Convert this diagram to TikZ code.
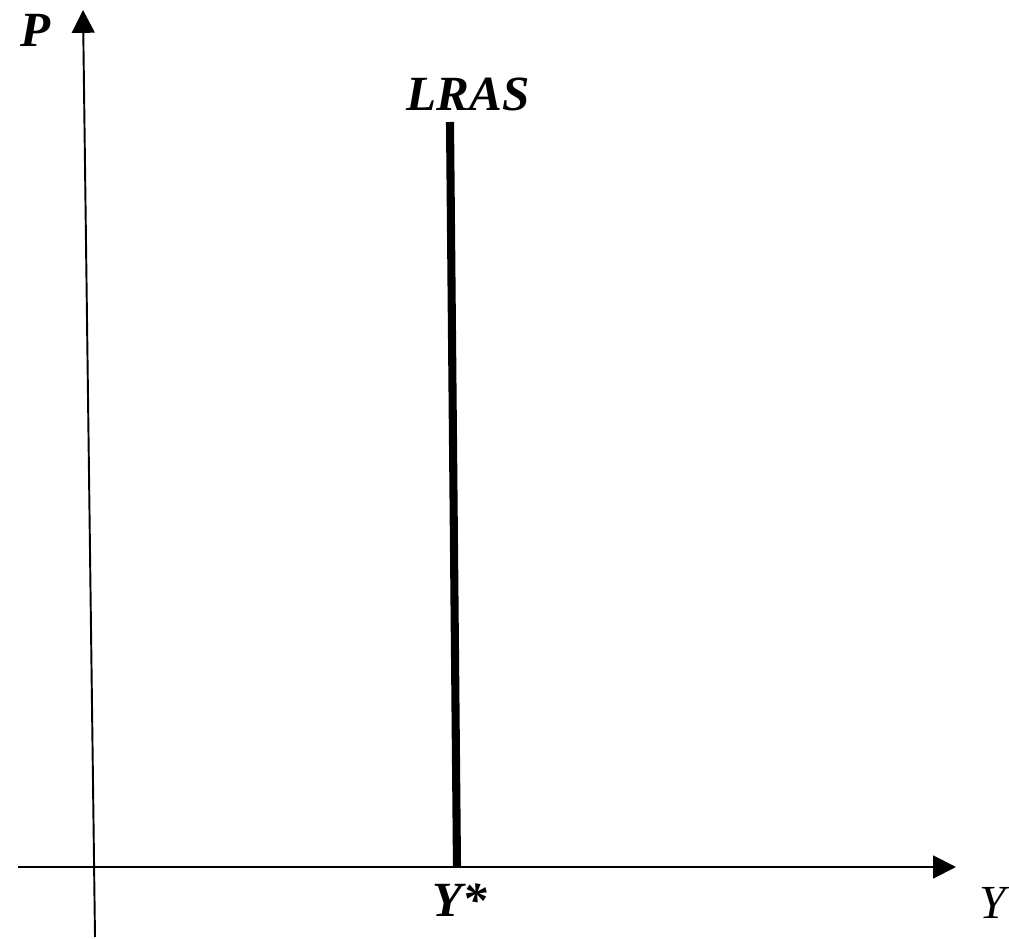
\documentclass[tikz,border=0pt]{standalone}
\usepackage{fontspec}
\setmainfont{Liberation Serif}
\usetikzlibrary{arrows.meta}

\begin{document}
\begin{tikzpicture}[
    x=0.02cm, y=-0.02cm,
    axis/.style={-{Triangle[length=13pt, width=13pt]}, line width=1.1pt, black},
    curve/.style={line width=4.6pt, black},
    lbl/.style={font=\fontsize{28}{30}\selectfont\bfseries\itshape, inner sep=0pt},
    axlbl/.style={font=\fontsize{27}{30}\selectfont\itshape, inner sep=0pt},
]
\useasboundingbox (0, 0) rectangle (1009, 939);

% Axes
\coordinate (pbot) at (95, 937);
\coordinate (ptop) at (83, 10);
\coordinate (yleft) at (18, 867);
\coordinate (yright) at (956, 867);
\draw[axis] (pbot) -- (ptop);
\draw[axis] (yleft) -- (yright);

% Axis labels
\node[lbl] (plabel) at (36, 30) {P};
\node[axlbl] (ylabel) at (993, 903) {Y};

% Long-run aggregate supply
\coordinate (lrastop) at (450, 122);
\coordinate (lrasbot) at (457, 867);
\draw[curve] (lrastop) -- (lrasbot);
\node[lbl] (lraslabel) at (468, 94) {LRAS};
\node[lbl] (ystar) at (460, 900) {Y*};

\end{tikzpicture}
\end{document}
